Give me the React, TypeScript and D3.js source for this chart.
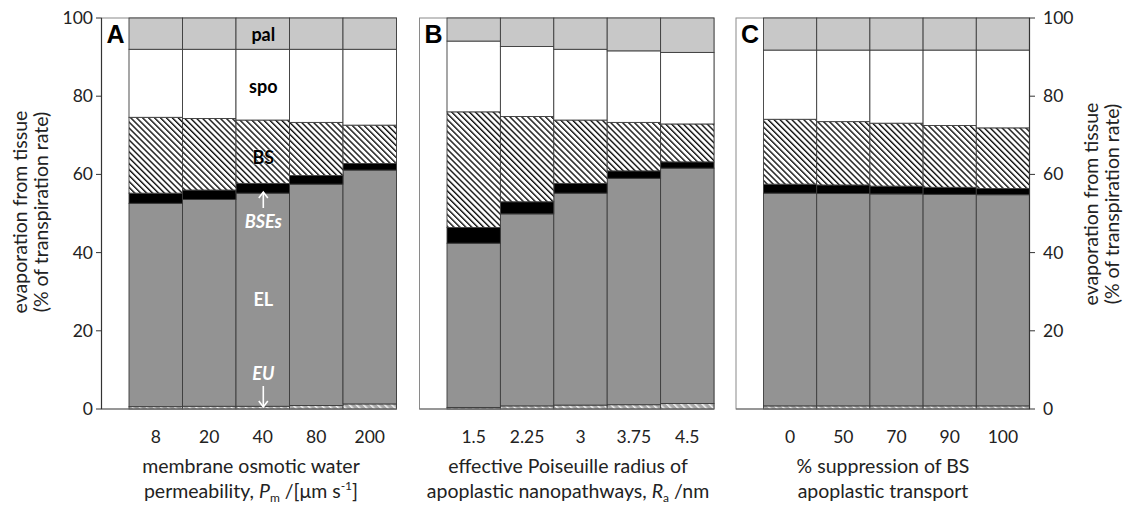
import React from "react";
import * as d3 from "d3";

// ---- Data (percent of transpiration rate, per tissue layer) ----
const layerKeys = ["EU", "EL", "BSEs", "BS", "spo", "pal"];

const catsA = ["8", "20", "40", "80", "200"];
const euA = [0.6, 0.7, 0.7, 0.9, 1.3];
const elA = [52.0, 52.9, 54.5, 56.6, 59.8];
const bseA = [2.6, 2.4, 2.5, 2.2, 1.7];
const bsA = [19.4, 18.3, 16.2, 13.6, 9.8];
const spoA = [17.4, 17.7, 18.1, 18.7, 19.4];
const palA = [8.0, 8.0, 8.0, 8.0, 8.0];

const catsB = ["1.5", "2.25", "3", "3.75", "4.5"];
const euB = [0.4, 0.8, 1.0, 1.1, 1.4];
const elB = [42.0, 49.1, 54.2, 57.9, 60.2];
const bseB = [4.0, 3.1, 2.5, 1.9, 1.6];
const bsB = [29.6, 21.8, 16.2, 12.4, 9.7];
const spoB = [18.1, 17.9, 18.1, 18.3, 18.3];
const palB = [5.9, 7.3, 8.0, 8.4, 8.8];

const catsC = ["0", "50", "70", "90", "100"];
const euC = [0.8, 0.8, 0.8, 0.8, 0.8];
const elC = [54.4, 54.3, 54.2, 54.1, 54.0];
const bseC = [2.3, 2.2, 2.0, 1.8, 1.6];
const bsC = [16.6, 16.2, 16.1, 15.8, 15.5];
const spoC = [17.7, 18.3, 18.7, 19.3, 19.9];
const palC = [8.2, 8.2, 8.2, 8.2, 8.2];

const yTicks = [0, 20, 40, 60, 80, 100];

const FONT = "Lato, 'Open Sans', sans-serif";
const TITLE_SIZE = 19.5;

const fills: Record<string, string> = {
  EU: "url(#hatchEU)",
  EL: "#939393",
  BSEs: "#000000",
  BS: "url(#hatchBS)",
  spo: "#ffffff",
  pal: "#c8c8c8",
};

function buildRows(cats: string[], cols: number[][]) {
  return cats.map((c, i) => {
    const r: any = { cat: c };
    layerKeys.forEach((k, j) => (r[k] = cols[j][i]));
    return r;
  });
}

const panels = [
  { letter: "A", x0: 101.5, x1: 396.5, cats: catsA, rows: buildRows(catsA, [euA, elA, bseA, bsA, spoA, palA]) },
  { letter: "B", x0: 419.5, x1: 714, cats: catsB, rows: buildRows(catsB, [euB, elB, bseB, bsB, spoB, palB]) },
  { letter: "C", x0: 736, x1: 1029.5, cats: catsC, rows: buildRows(catsC, [euC, elC, bseC, bsC, spoC, palC]) },
];

const y = d3.scaleLinear().domain([0, 100]).range([409, 18]);
const stack = d3.stack<any>().keys(layerKeys);

export default function App() {
  return (
    <svg width={1130} height={507} style={{ position: "absolute", left: 0, top: 0, background: "#fff" }}>
      <defs>
        <pattern id="hatchBS" patternUnits="userSpaceOnUse" width={4.2} height={4.2} patternTransform="rotate(-45)">
          <rect width={4.2} height={4.2} fill="#fff" />
          <rect x={0} y={0} width={1.4} height={4.2} fill="#111" />
        </pattern>
        <pattern id="hatchEU" patternUnits="userSpaceOnUse" width={5} height={5} patternTransform="rotate(-45)">
          <rect width={5} height={5} fill="#a8a8a8" />
          <rect x={0} y={0} width={1.5} height={5} fill="#f4f4f4" />
        </pattern>
      </defs>

      {panels.map((p) => {
        const x = d3.scaleBand<string>().domain(p.cats).range([p.x0 + 27.5, p.x1]).padding(0);
        const series = stack(p.rows);
        return (
          <g key={p.letter}>
            {/* frame */}
            <rect x={p.x0} y={18} width={p.x1 - p.x0} height={391} fill="#fff" stroke="#8a8a8a" strokeWidth={1} />
            {series.map((s) => (
              <g key={s.key}>
                {s.map((d, i) => (
                  <rect
                    key={i}
                    x={x(p.cats[i])!}
                    width={x.bandwidth()}
                    y={y(d[1])}
                    height={y(d[0]) - y(d[1])}
                    fill={fills[s.key]}
                    stroke="#3c3c3c"
                    strokeWidth={0.9}
                  />
                ))}
              </g>
            ))}
            {/* baseline */}
            <line x1={p.x0} x2={p.x1} y1={409} y2={409} stroke="#6a6a6a" strokeWidth={1.2} />
            {/* x tick labels */}
            {p.cats.map((c) => (
              <text key={c} x={x(c)! + x.bandwidth() / 2} y={443} textAnchor="middle" fontFamily={FONT} fontSize={17.5} fill="#222">
                {c}
              </text>
            ))}
            <text x={p.x0 + 5} y={43} fontFamily="'Liberation Sans', Arial, sans-serif" fontWeight="bold" fontSize={25} fill="#000">
              {p.letter}
            </text>
          </g>
        );
      })}

      {/* left y axis */}
      <line x1={101.5} x2={101.5} y1={18} y2={409} stroke="#333" strokeWidth={1.2} />
      {yTicks.map((t) => (
        <g key={"l" + t}>
          <line x1={96} x2={101.5} y1={y(t)} y2={y(t)} stroke="#333" />
          <text x={93} y={y(t) + 6} textAnchor="end" fontFamily={FONT} fontSize={17.5} fill="#222">
            {t}
          </text>
        </g>
      ))}
      {/* right y axis */}
      <line x1={1029.5} x2={1029.5} y1={18} y2={409} stroke="#333" strokeWidth={1.2} />
      {yTicks.map((t) => (
        <g key={"r" + t}>
          <line x1={1029.5} x2={1035} y1={y(t)} y2={y(t)} stroke="#333" />
          <text x={1043} y={y(t) + 6} textAnchor="start" fontFamily={FONT} fontSize={17.5} fill="#222">
            {t}
          </text>
        </g>
      ))}

      {/* y titles */}
      <g transform="translate(27,212) rotate(-90)" fontFamily={FONT} fontSize={TITLE_SIZE} fill="#222" textAnchor="middle">
        <text x={0} y={0}>evaporation from tissue</text>
        <text x={0} y={21}>(% of transpiration rate)</text>
      </g>
      <g transform="translate(1098,204) rotate(-90)" fontFamily={FONT} fontSize={TITLE_SIZE} fill="#222" textAnchor="middle">
        <text x={0} y={0}>evaporation from tissue</text>
        <text x={0} y={21}>(% of transpiration rate)</text>
      </g>

      {/* x titles */}
      <g fontFamily={FONT} fontSize={TITLE_SIZE} fill="#222" textAnchor="middle">
        <text x={251} y={473}>membrane osmotic water</text>
        <text x={251} y={498}>
          permeability, <tspan fontStyle="italic">P</tspan>
          <tspan fontSize={12} dy={4}>m</tspan>
          <tspan dy={-4}> /[μm s</tspan>
          <tspan fontSize={12} dy={-8}>-1</tspan>
          <tspan dy={8}>]</tspan>
        </text>
        <text x={568} y={473}>effective Poiseuille radius of</text>
        <text x={568} y={498}>
          apoplastic nanopathways, <tspan fontStyle="italic">R</tspan>
          <tspan fontSize={12} dy={4}>a</tspan>
          <tspan dy={-4}> /nm</tspan>
        </text>
        <text x={883} y={473}>% suppression of BS</text>
        <text x={883} y={498}>apoplastic transport</text>
      </g>

      {/* annotations in panel A, bar "40" */}
      <g fontFamily={FONT} fontWeight="bold" fontSize={18} textAnchor="middle">
        <text x={263.3} y={41} fill="#000">pal</text>
        <text x={263.3} y={93} fill="#000">spo</text>
        <text x={263.3} y={164} fill="#000" stroke="#fff" strokeWidth={0.7} paintOrder="stroke">BS</text>
        <text x={263.3} y={228} fill="#fff" fontStyle="italic">BSEs</text>
        <text x={263.3} y={306} fill="#fff">EL</text>
        <text x={263.3} y={380} fill="#fff" fontStyle="italic">EU</text>
      </g>
      <g stroke="#fff" strokeWidth={1.6} fill="none">
        <line x1={263.3} x2={263.3} y1={208} y2={192} />
        <polyline points="258.8,198 263.3,192 267.8,198" />
        <line x1={263.3} x2={263.3} y1={386} y2={407} />
        <polyline points="258.8,401 263.3,407 267.8,401" />
      </g>
    </svg>
  );
}
